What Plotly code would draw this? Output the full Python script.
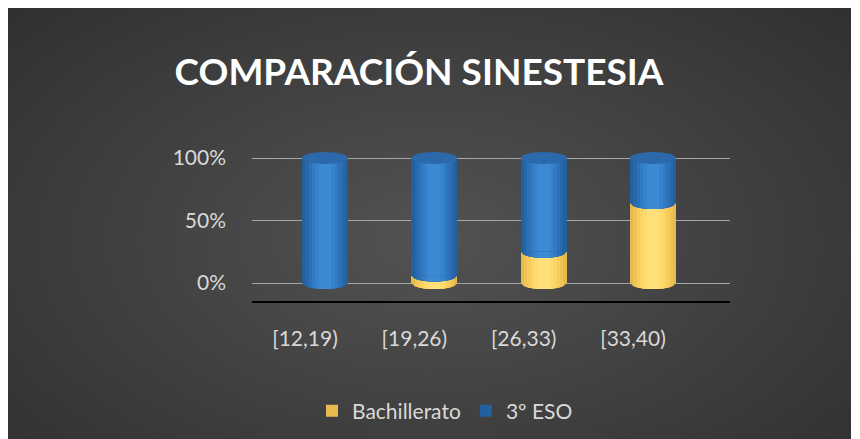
import math
import plotly.graph_objects as go

# ---- data (percent of each age group) ----
categories = ["[12,19)", "[19,26)", "[26,33)", "[33,40)"]
bachillerato = [0, 6, 25, 64]
eso = [100, 94, 75, 36]
y_tick_vals = [0, 50, 100]
y_tick_text = ["0%", "50%", "100%"]
series_names = ["Bachillerato", "3º ESO"]

W, H = 843, 439
OFF = 8  # page offset of the figure inside the browser window
FONT = "Lato"
TXT = "#d9d9d9"


def fx(p):
    return (p - OFF) / W


def fy(p):
    return 1 - (p - OFF) / H


bar_w = 0.42
ry = 4.8  # ellipse half-height in axis units

blue_shades = ["#2260a0", "#2869ac", "#2d72b8", "#327bc3", "#3783cc", "#3c8ad4"]
yellow_shades = ["#e4bb4c", "#eec455", "#f6cd5d", "#fbd563", "#fedb6c", "#ffe07a"]
stripe_frac = [1.0, 0.86, 0.72, 0.57, 0.42, 0.26]

fig = go.Figure()
xs = list(range(len(categories)))

# legend-bearing base traces
fig.add_trace(go.Bar(x=xs, y=bachillerato, base=[0] * len(xs), width=bar_w,
                     marker=dict(color=yellow_shades[0], line=dict(width=0)),
                     name=series_names[0], legendgroup="b"))
fig.add_trace(go.Bar(x=xs, y=eso, base=bachillerato, width=bar_w,
                     marker=dict(color=blue_shades[0], line=dict(width=0)),
                     name=series_names[1], legendgroup="e"))
# shading stripes for a cylinder look
for frac, yc, bc in zip(stripe_frac[1:], yellow_shades[1:], blue_shades[1:]):
    fig.add_trace(go.Bar(x=xs, y=bachillerato, base=[0] * len(xs), width=bar_w * frac,
                         marker=dict(color=yc, line=dict(width=0)),
                         showlegend=False, hoverinfo="skip"))
    fig.add_trace(go.Bar(x=xs, y=eso, base=bachillerato, width=bar_w * frac,
                         marker=dict(color=bc, line=dict(width=0)),
                         showlegend=False, hoverinfo="skip"))

shapes = []
# smooth radial background glow
n = 40
for k in range(n):
    t = 1 - k / n
    shapes.append(dict(type="circle", xref="paper", yref="paper", layer="below",
                       x0=0.5 - 0.8 * t, x1=0.5 + 0.8 * t,
                       y0=0.47 - 0.9 * t, y1=0.47 + 0.9 * t,
                       fillcolor="rgba(255,255,255,0.0065)", line=dict(width=0)))

R = bar_w / 2


def front_arc(cx, yb, frac, color):
    """Front (lower) half of the cylinder ellipse at level yb, limited to a stripe."""
    h = R * frac
    steps = 16
    pts = []
    for s in range(steps + 1):
        u = -h + 2 * h * s / steps
        v = yb - ry * math.sqrt(max(0.0, 1 - (u / R) ** 2))
        pts.append(f"L{cx + u:.5f},{v:.4f}")
    path = f"M{cx - h:.5f},{yb}" + "".join(pts) + f"L{cx + h:.5f},{yb}Z"
    return dict(type="path", xref="x", yref="y", layer="above", path=path,
                fillcolor=color, line=dict(width=0))


for i, (b, e) in enumerate(zip(bachillerato, eso)):
    bottom_shades = yellow_shades if b > 0 else blue_shades
    for frac, col in zip(stripe_frac, bottom_shades):
        shapes.append(front_arc(i, 0, frac, col))
    if b > 0 and e > 0:
        for frac, col in zip(stripe_frac, blue_shades):
            shapes.append(front_arc(i, b, frac, col))
    top = b + e
    shapes.append(dict(type="circle", xref="x", yref="y", layer="above",
                       x0=i - R, x1=i + R, y0=top - ry, y1=top + ry,
                       fillcolor="#2b69aa", line=dict(width=0)))

fig.update_layout(
    width=W, height=H,
    margin=dict(l=0, r=0, t=0, b=0),
    paper_bgcolor="#2a2a2a",
    plot_bgcolor="rgba(0,0,0,0)",
    barmode="overlay",
    bargap=0,
    shapes=shapes,
    title=dict(text="<b>COMPARACIÓN SINESTESIA</b>", x=fx(419), xanchor="center",
               y=fy(72), yanchor="middle",
               font=dict(family=FONT, size=37, color="#ffffff")),
    legend=dict(orientation="h", x=fx(445), xanchor="center", y=fy(411), yanchor="middle",
                font=dict(family=FONT, size=21, color=TXT), bgcolor="rgba(0,0,0,0)",
                traceorder="normal", itemwidth=30),
    font=dict(family=FONT, color=TXT),
    xaxis=dict(domain=[fx(252), fx(730)], range=[-0.668, 3.704],
               tickvals=xs, ticktext=categories, showgrid=False, zeroline=False,
               showline=True, linecolor="#000000", linewidth=1.6,
               ticks="", ticklabelstandoff=18, ticklabelshift=-20,
               tickfont=dict(family=FONT, size=21, color=TXT)),
    yaxis=dict(domain=[fy(300.5), fy(143)], range=[-14, 112],
               tickvals=y_tick_vals, ticktext=y_tick_text, showgrid=True,
               gridcolor="#a6a6a6", gridwidth=1.2, zeroline=False, showline=False,
               ticks="", ticklabelstandoff=25,
               tickfont=dict(family=FONT, size=21, color=TXT)),
)

fig.write_html("out.html")
